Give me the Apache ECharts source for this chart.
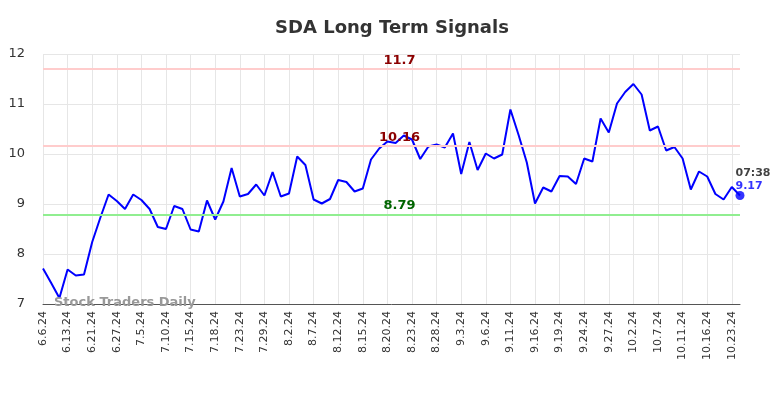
<!DOCTYPE html>
<html lang="en">
<head>
    <meta charset="UTF-8">
    <title>SDA Long Term Signals</title>
    <script src="https://cdn.jsdelivr.net/npm/echarts@6/dist/echarts.min.js"></script>
    <style>
        html, body { margin: 0; padding: 0; background: #fff; }
    </style>
</head>
<body>
    <div id="myChart" style="width: 784px; height: 398px;"></div>
    <script>
        // shown date labels (one every 3 points)
        const labels = ['6.6.24', '6.13.24', '6.21.24', '6.27.24', '7.5.24', '7.10.24', '7.15.24', '7.18.24',
            '7.23.24', '7.29.24', '8.2.24', '8.7.24', '8.12.24', '8.15.24', '8.20.24', '8.23.24', '8.28.24',
            '9.3.24', '9.6.24', '9.11.24', '9.16.24', '9.19.24', '9.24.24', '9.27.24', '10.2.24', '10.7.24',
            '10.11.24', '10.16.24', '10.23.24'];

        // price values
        const prices = [
            7.71, 7.42, 7.12, 7.69, 7.57, 7.59, 8.24, 8.73, 9.19, 9.06,
            8.90, 9.19, 9.08, 8.90, 8.54, 8.50, 8.96, 8.90, 8.49, 8.45,
            9.07, 8.69, 9.05, 9.72, 9.15, 9.20, 9.39, 9.17, 9.64, 9.15,
            9.21, 9.95, 9.78, 9.09, 9.01, 9.10, 9.48, 9.44, 9.25, 9.31,
            9.89, 10.11, 10.25, 10.22, 10.37, 10.29, 9.90, 10.15, 10.19, 10.13,
            10.41, 9.60, 10.24, 9.68, 10.01, 9.91, 9.99, 10.89, 10.38, 9.83,
            9.01, 9.33, 9.25, 9.56, 9.55, 9.40, 9.91, 9.85, 10.71, 10.43,
            11.01, 11.24, 11.40, 11.19, 10.47, 10.55, 10.07, 10.14, 9.91, 9.29,
            9.65, 9.55, 9.20, 9.09, 9.34, 9.17
        ];

        // signal levels
        const upperLevels = [11.7, 10.16];
        const lowerLevels = [8.79];
        const lastTime = '07:38';

        const categories = prices.map(function (v, i) {
            return i % 3 === 0 ? labels[i / 3] : '';
        });
        const lastIndex = prices.length - 1;

        var myChart = echarts.init(document.getElementById('myChart'));

        const option = {
            animation: false,
            textStyle: { fontFamily: 'DejaVu Sans' },
            title: {
                text: 'SDA Long Term Signals',
                left: 'center',
                top: 14,
                textStyle: { fontSize: 18, fontWeight: 'bold', color: '#333' }
            },
            grid: { left: 43, right: 44, top: 54, bottom: 94 },
            xAxis: {
                type: 'category',
                data: categories,
                boundaryGap: false,
                axisLine: { lineStyle: { color: '#555', width: 1 } },
                axisTick: { show: false },
                axisLabel: {
                    interval: 2,
                    rotate: 90,
                    fontSize: 11,
                    color: '#333',
                    margin: 7
                },
                splitLine: { show: true, interval: 2, lineStyle: { color: '#e6e6e6' } }
            },
            yAxis: {
                type: 'value',
                min: 7,
                max: 12,
                interval: 1,
                axisLine: { show: false },
                axisTick: { show: false },
                axisLabel: { fontSize: 13, color: '#333', margin: 18 },
                splitLine: { lineStyle: { color: '#e6e6e6' } }
            },
            graphic: [{
                type: 'text',
                left: 54,
                top: 296,
                z: 100,
                style: {
                    text: 'Stock Traders Daily',
                    font: 'bold 13px DejaVu Sans',
                    fill: '#999'
                }
            }],
            series: [
                {
                    type: 'line',
                    data: prices,
                    symbol: 'none',
                    lineStyle: { color: '#0000ff', width: 2 },
                    markLine: {
                        silent: true,
                        symbol: 'none',
                        data: upperLevels.map(function (v) {
                            return {
                                yAxis: v,
                                lineStyle: { color: '#ffcccc', width: 2, type: 'solid' },
                                label: { color: '#8b0000' }
                            };
                        }).concat(lowerLevels.map(function (v) {
                            return {
                                yAxis: v,
                                lineStyle: { color: '#90ee90', width: 2, type: 'solid' },
                                label: { color: '#006400' }
                            };
                        })),
                        label: {
                            position: 'insideMiddleTop',
                            formatter: '{c}',
                            fontSize: 13,
                            fontWeight: 'bold',
                            padding: [0, 0, 0, 16],
                            distance: 2
                        }
                    }
                },
                {
                    type: 'scatter',
                    data: [[lastIndex, prices[lastIndex]]],
                    symbolSize: 9,
                    itemStyle: { color: '#0000ff' },
                    label: {
                        show: true,
                        position: [0, -24],
                        formatter: '{t|' + lastTime + '}\n{v|{@[1]}}',
                        rich: {
                            t: { fontSize: 11, fontWeight: 'bold', color: '#111', lineHeight: 13 },
                            v: { fontSize: 11, fontWeight: 'bold', color: '#0000ff', lineHeight: 13 }
                        }
                    }
                }
            ]
        };
        myChart.setOption(option);
    </script>
</body>
</html>
